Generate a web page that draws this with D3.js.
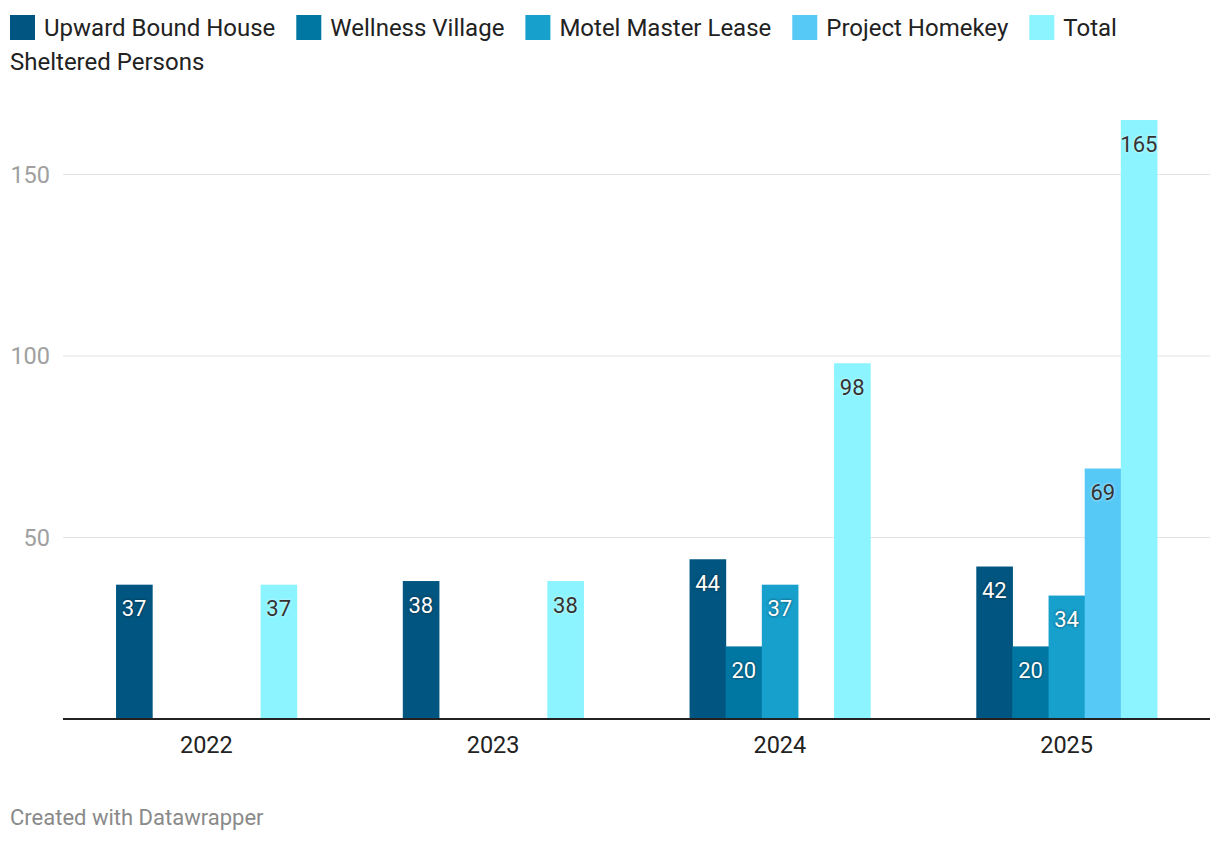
<!DOCTYPE html>
<html>
<head>
<meta charset="utf-8">
<script src="https://cdn.jsdelivr.net/npm/d3@7"></script>
<style>
  body { margin: 0; background: #fff; font-family: Roboto, "Noto Sans", sans-serif; }
  .val-light { fill: #fff; text-shadow: 0 0 3px rgba(0,0,0,0.6); }
  .val-dark { fill: #333; text-shadow: 0 0 3px rgba(255,255,255,0.8); }
</style>
</head>
<body>
<div id="chart"></div>
<script>
var years = ["2022", "2023", "2024", "2025"];
var seriesNames = ["Upward Bound House", "Wellness Village", "Motel Master Lease", "Project Homekey", "Total Sheltered Persons"];
var upwardBound = [37, 38, 44, 42];
var wellnessVillage = [0, 0, 20, 20];
var motelMasterLease = [0, 0, 37, 34];
var projectHomekey = [0, 0, 0, 69];
var totalSheltered = [37, 38, 98, 165];
var yTicks = [50, 100, 150];
var colors = ["#005680", "#0077a3", "#17a0cc", "#57c9f7", "#8bf4ff"];

var svgWidth = 1220;
var svgHeight = 842;

var margin = { top: 120, right: 10, bottom: 123, left: 63 };
var width = svgWidth - margin.left - margin.right;
var height = svgHeight - margin.top - margin.bottom;

var seriesValues = [upwardBound, wellnessVillage, motelMasterLease, projectHomekey, totalSheltered];

var svg = d3.select("#chart")
    .append("svg")
    .attr("width", svgWidth)
    .attr("height", svgHeight);

// legend, wrapping words onto a second line when space runs out
var legendSize = 24;
var legend = svg.append("g").attr("font-size", legendSize).attr("fill", "#222");
var lx = 10, ly = 28, lineH = 34, maxX = 1210;
var measure = svg.append("text").attr("font-size", legendSize).attr("visibility", "hidden");
function textW(s) { measure.text(s); return measure.node().getComputedTextLength(); }

seriesNames.forEach(function(name, i) {
    legend.append("rect")
        .attr("x", lx).attr("y", ly - 13)
        .attr("width", 25).attr("height", 25)
        .attr("fill", colors[i]);
    lx += 34;
    var words = name.split(" ");
    var line = "";
    var t = legend.append("text").attr("x", lx).attr("y", ly).attr("dy", "0.35em");
    words.forEach(function(w) {
        var test = line ? line + " " + w : w;
        if (line && lx + textW(test) > maxX) {
            t.text(line);
            ly += lineH;
            lx = 10;
            t = legend.append("text").attr("x", lx).attr("y", ly).attr("dy", "0.35em");
            line = w;
        } else {
            line = test;
        }
    });
    t.text(line);
    lx += textW(line) + 21;
});
measure.remove();

var chartGroup = svg.append("g")
    .attr("transform", `translate(${margin.left}, ${margin.top})`);

var x0 = d3.scaleBand()
    .domain(years)
    .range([0, width])
    .paddingInner(0)
    .paddingOuter(0);

var x1 = d3.scaleBand()
    .domain(d3.range(seriesNames.length))
    .range([x0.bandwidth() * 0.185, x0.bandwidth() * 0.815])
    .padding(0);

var y = d3.scaleLinear()
    .domain([0, 165])
    .range([height, 0]);

// gridlines
chartGroup.selectAll("line.grid")
    .data(yTicks)
    .enter()
    .append("line")
    .attr("x1", 0)
    .attr("x2", width)
    .attr("y1", d => y(d))
    .attr("y2", d => y(d))
    .attr("stroke", "#e3e3e3")
    .attr("stroke-width", 1);

chartGroup.selectAll("text.ytick")
    .data(yTicks)
    .enter()
    .append("text")
    .attr("x", -13)
    .attr("y", d => y(d))
    .attr("dy", "0.35em")
    .attr("text-anchor", "end")
    .attr("font-size", 23.5)
    .attr("fill", "#a0a0a0")
    .text(d => d);

var groups = chartGroup.selectAll("g.year")
    .data(years)
    .enter()
    .append("g")
    .attr("transform", d => `translate(${x0(d)}, 0)`);

groups.each(function(yr, yi) {
    var g = d3.select(this);
    seriesValues.forEach(function(vals, si) {
        var v = vals[yi];
        if (!v) return;
        g.append("rect")
            .attr("x", x1(si))
            .attr("y", y(v))
            .attr("width", x1.bandwidth() + 0.5)
            .attr("height", height - y(v))
            .attr("fill", colors[si]);
        g.append("text")
            .attr("class", si >= 3 ? "val-dark" : "val-light")
            .attr("x", x1(si) + x1.bandwidth() / 2)
            .attr("y", y(v) + 24)
            .attr("dy", "0.35em")
            .attr("text-anchor", "middle")
            .attr("font-size", 22)
            .text(v);
    });
});

// baseline and x labels
chartGroup.append("line")
    .attr("x1", 0).attr("x2", width)
    .attr("y1", height).attr("y2", height)
    .attr("stroke", "#222")
    .attr("stroke-width", 2);

chartGroup.selectAll("text.xtick")
    .data(years)
    .enter()
    .append("text")
    .attr("x", d => x0(d) + x0.bandwidth() / 2)
    .attr("y", height + 26)
    .attr("dy", "0.35em")
    .attr("text-anchor", "middle")
    .attr("font-size", 23.5)
    .attr("fill", "#222")
    .text(d => d);

svg.append("text")
    .attr("x", 10)
    .attr("y", 817)
    .attr("dy", "0.35em")
    .attr("font-size", 22)
    .attr("fill", "#8a8a8a")
    .text("Created with Datawrapper");
</script>
</body>
</html>
